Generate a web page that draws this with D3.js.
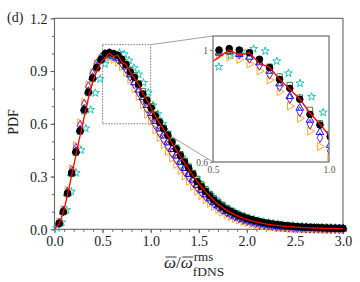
<!DOCTYPE html>
<html><head><meta charset="utf-8">
<script src="https://cdn.jsdelivr.net/npm/d3@7/dist/d3.min.js"></script>
<style>html,body{margin:0;padding:0;background:#fff;}svg{display:block;}</style>
</head><body>
<svg id="chart" width="360" height="282"></svg>
<script>
// ---------------- data ----------------
const xGrid = [0.048,0.091,0.135,0.178,0.222,0.265,0.309,0.352,0.396,0.439,0.483,0.526,0.570,0.613,0.657,0.700,0.744,0.787,0.831,0.874,0.918,0.961,1.005,1.048,1.092,1.135,1.179,1.222,1.266,1.309,1.353,1.396,1.440,1.483,1.527,1.570,1.614,1.657,1.701,1.744,1.788,1.831,1.875,1.918,1.962,2.005,2.049,2.092,2.136,2.179,2.223,2.266,2.310,2.353,2.397,2.440,2.484,2.527,2.571,2.614,2.658,2.701,2.745,2.788,2.832,2.875,2.919,2.962,3.000];
const redX = [0].concat(xGrid);
const redY = [0,0.030,0.095,0.195,0.305,0.420,0.530,0.640,0.745,0.835,0.900,0.950,0.975,1.000,0.982,0.990,0.952,0.938,0.895,0.860,0.825,0.775,0.735,0.690,0.645,0.605,0.568,0.530,0.490,0.452,0.414,0.377,0.341,0.306,0.272,0.242,0.214,0.188,0.164,0.143,0.125,0.109,0.095,0.083,0.072,0.063,0.055,0.048,0.042,0.037,0.032,0.028,0.025,0.022,0.019,0.017,0.015,0.013,0.012,0.010,0.009,0.008,0.0075,0.007,0.006,0.0055,0.005,0.0045,0.004,0.004];
const blackY = [0.034,0.100,0.205,0.320,0.440,0.560,0.680,0.780,0.860,0.920,0.965,1.000,1.005,1.000,0.990,0.967,0.937,0.895,0.863,0.824,0.770,0.732,0.690,0.645,0.608,0.572,0.535,0.495,0.457,0.420,0.383,0.348,0.313,0.272,0.243,0.215,0.190,0.166,0.146,0.128,0.113,0.102,0.090,0.079,0.070,0.062,0.055,0.049,0.043,0.038,0.034,0.030,0.027,0.024,0.021,0.019,0.017,0.015,0.013,0.012,0.011,0.010,0.009,0.008,0.007,0.0065,0.006,0.0055,0.005];
const greenY = [0.032,0.098,0.200,0.315,0.435,0.555,0.672,0.775,0.855,0.915,0.960,0.990,0.995,0.990,0.990,0.965,0.940,0.905,0.875,0.830,0.786,0.738,0.700,0.655,0.615,0.578,0.540,0.502,0.464,0.427,0.390,0.355,0.320,0.286,0.255,0.227,0.200,0.176,0.155,0.136,0.119,0.105,0.093,0.082,0.073,0.065,0.058,0.051,0.045,0.040,0.036,0.032,0.028,0.025,0.022,0.020,0.018,0.016,0.014,0.013,0.012,0.011,0.010,0.009,0.008,0.0075,0.007,0.0065,0.006];
const blueY = [0.033,0.100,0.205,0.320,0.445,0.565,0.685,0.785,0.865,0.925,0.965,0.990,0.995,0.985,0.975,0.955,0.925,0.880,0.835,0.793,0.750,0.706,0.660,0.615,0.572,0.532,0.493,0.455,0.418,0.382,0.347,0.313,0.281,0.251,0.223,0.197,0.174,0.153,0.134,0.117,0.102,0.089,0.077,0.067,0.058,0.050,0.044,0.038,0.033,0.028,0.024,0.021,0.018,0.016,0.014,0.012,0.010,0.009,0.008,0.007,0.006,0.0055,0.005,0.0045,0.004,0.0035,0.003,0.003,0.0025];
const purpleY = [0.035,0.105,0.212,0.332,0.460,0.590,0.710,0.810,0.885,0.940,0.975,0.995,1.000,0.985,0.970,0.945,0.913,0.870,0.827,0.780,0.735,0.687,0.640,0.595,0.552,0.512,0.473,0.435,0.399,0.364,0.331,0.299,0.269,0.241,0.214,0.190,0.168,0.148,0.130,0.113,0.099,0.086,0.075,0.065,0.056,0.049,0.042,0.036,0.031,0.027,0.023,0.020,0.017,0.015,0.013,0.011,0.0095,0.008,0.007,0.006,0.0055,0.005,0.0045,0.004,0.0035,0.003,0.003,0.0025,0.002];
const orangeY = [0.040,0.112,0.222,0.345,0.475,0.605,0.722,0.822,0.893,0.942,0.970,0.980,0.975,0.966,0.950,0.925,0.893,0.851,0.800,0.756,0.710,0.655,0.615,0.565,0.522,0.482,0.443,0.405,0.369,0.335,0.303,0.273,0.244,0.217,0.192,0.169,0.148,0.129,0.112,0.097,0.084,0.072,0.062,0.053,0.045,0.038,0.032,0.027,0.023,0.019,0.016,0.013,0.011,0.009,0.0075,0.006,0.005,0.004,0.0035,0.003,0.0025,0.002,0.002,0.0015,0.0015,0.001,0.001,0.001,0.001];
const cyanX = [0.025,0.075,0.125,0.175,0.225,0.275,0.325,0.375,0.425,0.475,0.525,0.575,0.625,0.675,0.725,0.775,0.825,0.875,0.925,0.975,1.025,1.075,1.125,1.175,1.225,1.275,1.325,1.375,1.425,1.475,1.525,1.575,1.625,1.675,1.725,1.775,1.825,1.875,1.925,1.975,2.025,2.075,2.125,2.175,2.225,2.275,2.325,2.375,2.425,2.475,2.525,2.575,2.625,2.675,2.725,2.775,2.825,2.875,2.925,2.975];
const cyanY = [0.008,0.040,0.110,0.215,0.320,0.450,0.574,0.680,0.775,0.855,0.940,0.980,0.995,1.004,0.996,0.960,0.917,0.881,0.833,0.777,0.705,0.655,0.600,0.550,0.500,0.455,0.410,0.367,0.327,0.290,0.255,0.224,0.196,0.171,0.149,0.130,0.113,0.098,0.085,0.074,0.064,0.056,0.049,0.043,0.038,0.033,0.029,0.025,0.022,0.020,0.018,0.016,0.014,0.012,0.011,0.010,0.009,0.008,0.007,0.006];
const xMajorTicks = [0,0.5,1.0,1.5,2.0,2.5,3.0];
const yMajorTicks = [0,0.3,0.6,0.9,1.2];
const insetXTicks = [0.5,1.0];
const insetYTicks = [0.6,1];

// ---------------- setup ----------------
const svg = d3.select("#chart");
const FONT = "'Liberation Serif','Times New Roman',serif";
const x = d3.scaleLinear().domain([0,3]).range([54.5,343]);
const y = d3.scaleLinear().domain([0,1.2]).range([229.3,18.3]);
const xi = d3.scaleLinear().domain([0.5,1.0]).range([213,329]);
const yi = d3.scaleLinear().domain([0.6,1.05]).range([162,36]);

const zip = (xs, ys) => xs.slice(0, Math.min(xs.length, ys.length)).map((d,i)=>[d, ys[i]]);

const series = [
  {name:"cyan",   data: zip(cyanX, cyanY),   type:d3.symbolStar,     size:20, stroke:"#1cc4c4", fill:"none", rot:0},
  {name:"orange", data: zip(xGrid, orangeY), type:d3.symbolTriangle, size:28, stroke:"#ffa726", fill:"none", rot:90},
  {name:"purple", data: zip(xGrid, purpleY), type:d3.symbolDiamond,  size:28, stroke:"#7b1fa8", fill:"none", rot:0},
  {name:"blue",   data: zip(xGrid, blueY),   type:d3.symbolTriangle, size:26, stroke:"#1515f0", fill:"none", rot:0},
  {name:"green",  data: zip(xGrid, greenY),  type:d3.symbolSquare,   size:30, stroke:"#2e8b2e", fill:"none", rot:0},
  {name:"black",  data: zip(xGrid, blackY),  type:d3.symbolCircle,   size:34, stroke:"#000",    fill:"#000",  rot:0}
];
const redData = zip(redX, redY);

function drawSeries(g, sx, sy) {
  series.forEach(s => {
    g.append("g").selectAll("path").data(s.data).join("path")
      .attr("d", d3.symbol().type(s.type).size(s.size)())
      .attr("transform", d => `translate(${sx(d[0])},${sy(d[1])}) rotate(${s.rot})`)
      .attr("fill", s.fill).attr("stroke", s.stroke).attr("stroke-width", 1);
  });
  g.append("path").datum(redData)
    .attr("d", d3.line().x(d=>sx(d[0])).y(d=>sy(d[1])))
    .attr("fill","none").attr("stroke","#ff0000").attr("stroke-width",1.3);
}

// ---------------- main axes ----------------
const axisColor = "#555";
function styleAxis(g){
  g.selectAll(".domain").remove();
  g.selectAll("line").attr("stroke", axisColor).attr("stroke-width",0.9);
  g.selectAll("text").attr("font-family", FONT).attr("font-size", 14).attr("fill", "#222");
}
svg.append("g").attr("transform","translate(0,229.3)")
  .call(d3.axisBottom(x).tickValues(d3.range(0,3.001,0.1)).tickSize(2.5).tickFormat(""))
  .call(styleAxis);
svg.append("g").attr("transform","translate(54.5,0)")
  .call(d3.axisLeft(y).tickValues(d3.range(0,1.2001,0.1)).tickSize(2.5).tickFormat(""))
  .call(styleAxis);
svg.append("g").attr("transform","translate(0,229.3)")
  .call(d3.axisBottom(x).tickValues(xMajorTicks).tickSize(4).tickPadding(3).tickFormat(d3.format(".1f")))
  .call(styleAxis);
svg.append("g").attr("transform","translate(54.5,0)")
  .call(d3.axisLeft(y).tickValues(yMajorTicks).tickSize(4).tickPadding(3).tickFormat(d3.format(".1f")))
  .call(styleAxis)
  .selectAll("text").attr("dy","0.34em");

svg.append("rect").attr("x",x(0)).attr("y",y(1.2)).attr("width",x(3)-x(0)).attr("height",y(0)-y(1.2))
  .attr("fill","none").attr("stroke","#666").attr("stroke-width",1.1);

svg.append("rect").attr("x",x(0.5)).attr("y",y(1.05)).attr("width",x(1.0)-x(0.5)).attr("height",y(0.6)-y(1.05))
  .attr("fill","none").attr("stroke","#555").attr("stroke-width",0.8).attr("stroke-dasharray","1.5,1.3");
svg.append("line").attr("x1",x(1.0)).attr("y1",y(1.05)).attr("x2",xi(0.5)).attr("y2",yi(1.05))
  .attr("stroke","#777").attr("stroke-width",0.7);
svg.append("line").attr("x1",x(1.0)).attr("y1",y(0.6)).attr("x2",xi(0.5)).attr("y2",yi(0.6))
  .attr("stroke","#777").attr("stroke-width",0.7);

drawSeries(svg.append("g"), x, y);

// ---------------- inset ----------------
const inset = svg.append("g");
inset.append("rect").attr("x",xi(0.5)).attr("y",yi(1.05)).attr("width",xi(1.0)-xi(0.5)).attr("height",yi(0.6)-yi(1.05))
  .attr("fill","#fff");
svg.append("clipPath").attr("id","insetClip").append("rect")
  .attr("x",xi(0.5)).attr("y",yi(1.05)).attr("width",xi(1.0)-xi(0.5)).attr("height",yi(0.6)-yi(1.05));
drawSeries(inset.append("g").attr("clip-path","url(#insetClip)"), xi, yi);
inset.append("rect").attr("x",xi(0.5)).attr("y",yi(1.05)).attr("width",xi(1.0)-xi(0.5)).attr("height",yi(0.6)-yi(1.05))
  .attr("fill","none").attr("stroke","#777").attr("stroke-width",1.3);
function styleInsetAxis(g){
  g.selectAll(".domain").remove();
  g.selectAll("line").attr("stroke","#777").attr("stroke-width",0.8);
  g.selectAll("text").attr("font-family",FONT).attr("font-size",9.5).attr("fill","#555");
}
inset.append("g").attr("transform",`translate(0,${yi(0.6)})`)
  .call(d3.axisBottom(xi).tickValues(insetXTicks).tickSize(0).tickPadding(4).tickFormat(d3.format(".1f")))
  .call(styleInsetAxis);
inset.append("g").attr("transform",`translate(${xi(0.5)},0)`)
  .call(d3.axisLeft(yi).tickValues(insetYTicks).tickSize(3).tickPadding(2).tickFormat(d => d===1 ? "1" : d3.format(".1f")(d)))
  .call(styleInsetAxis);

// ---------------- labels ----------------
svg.append("text").attr("x",7).attr("y",22).attr("font-family",FONT).attr("font-size",14).attr("fill","#222").text("(d)");
svg.append("text").attr("transform","translate(18,122) rotate(-90)").attr("text-anchor","middle")
  .attr("font-family",FONT).attr("font-size",14).attr("fill","#222").text("PDF");

// x label: ω̄ / ω̄ with drawn overbars
const lab = svg.append("g").attr("fill","#222").attr("font-family",FONT);
let cx = 164;
function piece(txt, italic, bar){
  const t = lab.append("text").attr("x",cx).attr("y",268).attr("font-size",17)
    .attr("font-style", italic ? "italic" : "normal").text(txt);
  const w = t.node().getComputedTextLength();
  if (bar) lab.append("line").attr("x1",cx+1.5).attr("x2",cx+w+0.5).attr("y1",257).attr("y2",257)
    .attr("stroke","#222").attr("stroke-width",0.9);
  cx += w;
}
piece("ω", true, true);
piece("/", false, false);
piece("ω", true, true);
svg.append("text").attr("x",cx+1).attr("y",261).attr("font-family",FONT).attr("font-size",13).attr("fill","#222").text("rms");
svg.append("text").attr("x",cx).attr("y",276).attr("font-family",FONT).attr("font-size",13.5).attr("fill","#222").text("fDNS");
</script>
</body></html>
